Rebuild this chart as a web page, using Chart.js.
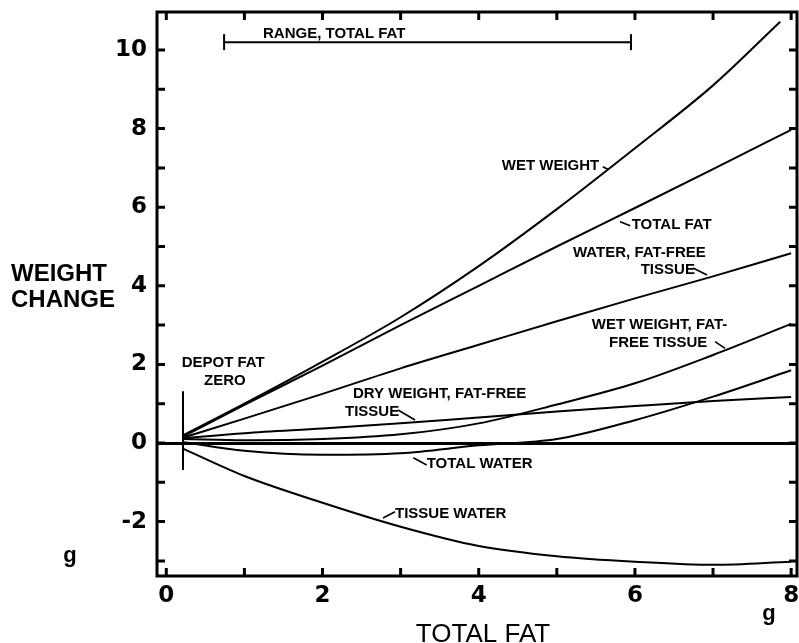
<!DOCTYPE html>
<html><head><meta charset="utf-8">
<script src="https://cdn.jsdelivr.net/npm/chart.js@4.4.1/dist/chart.umd.min.js"></script>
<style>html,body{margin:0;padding:0;background:#fff;}canvas{display:block;}</style>
</head><body>
<canvas id="c" width="799" height="643"></canvas>
<script>
// ---- data ----
const xPoints = [0.22, 1, 2, 3, 4, 5, 6, 7, 8];
const xWetPoints = [0.22, 1, 2, 3, 4, 5, 6, 7, 7.86];
const wetWeight = [0.2, 1.0, 2.07, 3.2, 4.5, 5.95, 7.5, 9.1, 10.72];
const totalFat = [0.17, 0.97, 1.97, 3.0, 4.0, 5.0, 5.98, 6.97, 7.97];
const waterFatFree = [0.14, 0.62, 1.25, 1.9, 2.5, 3.1, 3.68, 4.24, 4.83];
const wetWeightFatFree = [0.1, 0.07, 0.1, 0.22, 0.5, 0.98, 1.52, 2.24, 3.03];
const dryWeightFatFree = [0.12, 0.25, 0.37, 0.5, 0.65, 0.8, 0.94, 1.07, 1.17];
const totalWater = [0.02, -0.2, -0.3, -0.26, -0.06, 0.1, 0.58, 1.18, 1.85];
const tissueWater = [-0.15, -0.84, -1.52, -2.13, -2.62, -2.88, -3.02, -3.1, -3.02];
const rangeTotalFatX = [0.74, 5.95];
const rangeTotalFatY = [10.2, 10.2];
const depotFatZeroX = [0.214, 0.214];
const depotFatZeroY = [1.32, -0.69];
const xTickLabels = [0, 2, 4, 6, 8];
const yTickLabels = [-2, 0, 2, 4, 6, 8, 10];

const toPts = (xs, ys) => xs.map((x, i) => ({x: x, y: ys[i]}));

// annotation texts (data coordinates) and their leader strokes
const annotations = [
  {t: 'RANGE, TOTAL FAT', x: 1.238, y: 10.42},
  {t: 'WET WEIGHT', x: 4.295, y: 7.05, lead: [5.588, 7.03, 5.66, 6.96]},
  {t: 'TOTAL FAT', x: 5.959, y: 5.547, lead: [5.81, 5.63, 5.94, 5.53]},
  {t: 'WATER, FAT-FREE', x: 5.207, y: 4.847},
  {t: 'TISSUE', x: 6.074, y: 4.41, lead: [6.744, 4.453, 6.923, 4.275]},
  {t: 'WET WEIGHT, FAT-', x: 5.447, y: 3.0},
  {t: 'FREE TISSUE', x: 5.668, y: 2.55, lead: [7.026, 2.578, 7.154, 2.41]},
  {t: 'DEPOT FAT', x: 0.197, y: 2.048},
  {t: 'ZERO', x: 0.483, y: 1.583},
  {t: 'DRY WEIGHT, FAT-FREE', x: 2.39, y: 1.247},
  {t: 'TISSUE', x: 2.288, y: 0.796, lead: [2.967, 0.84, 3.185, 0.585]},
  {t: 'TOTAL WATER', x: 3.334, y: -0.534, lead: [3.163, -0.374, 3.334, -0.56]},
  {t: 'TISSUE WATER', x: 2.928, y: -1.794, lead: [2.775, -1.908, 2.928, -1.748]}
];

const lineDs = (label, xs, ys) => ({
  label: label, data: toPts(xs, ys), borderColor: '#000', borderWidth: 2,
  pointRadius: 0, fill: false, cubicInterpolationMode: 'monotone'
});

const framePlugin = {
  id: 'frame',
  afterDatasetsDraw(chart) {
    const {ctx, chartArea: a, scales: {x, y}} = chart;
    ctx.save();
    ctx.strokeStyle = '#000';
    ctx.lineWidth = 3;
    ctx.strokeRect(a.left, a.top, a.right - a.left, a.bottom - a.top);
    const L = 8;
    x.ticks.forEach(t => {
      const p = x.getPixelForValue(t.value);
      ctx.beginPath();
      ctx.moveTo(p, a.top); ctx.lineTo(p, a.top + L);
      ctx.moveTo(p, a.bottom); ctx.lineTo(p, a.bottom - L);
      ctx.stroke();
    });
    y.ticks.forEach(t => {
      const p = y.getPixelForValue(t.value);
      ctx.beginPath();
      ctx.moveTo(a.left, p); ctx.lineTo(a.left + L, p);
      ctx.moveTo(a.right, p); ctx.lineTo(a.right - L, p);
      ctx.stroke();
    });
    // annotations
    ctx.fillStyle = '#000';
    ctx.font = 'bold 15px "Liberation Sans"';
    ctx.textAlign = 'left';
    ctx.textBaseline = 'middle';
    ctx.lineWidth = 1.6;
    annotations.forEach(an => {
      ctx.fillText(an.t, x.getPixelForValue(an.x), y.getPixelForValue(an.y));
      if (an.lead) {
        ctx.beginPath();
        ctx.moveTo(x.getPixelForValue(an.lead[0]), y.getPixelForValue(an.lead[1]));
        ctx.lineTo(x.getPixelForValue(an.lead[2]), y.getPixelForValue(an.lead[3]));
        ctx.stroke();
      }
    });
    // axis titles and units
    ctx.font = 'bold 24px "Liberation Sans"';
    ctx.textBaseline = 'alphabetic';
    ctx.fillText('WEIGHT', 11, 281);
    ctx.fillText('CHANGE', 11, 307);
    ctx.font = 'bold 22px "Liberation Sans"';
    ctx.textAlign = 'center';
    ctx.fillText('g', 70, 562);
    ctx.fillText('g', 769, 620);
    ctx.font = '26px "Liberation Sans"';
    ctx.fillText('TOTAL FAT', 483, 642);
    ctx.restore();
  }
};

new Chart(document.getElementById('c'), {
  type: 'line',
  data: {
    datasets: [
      lineDs('Wet weight', xWetPoints, wetWeight),
      lineDs('Total fat', xPoints, totalFat),
      lineDs('Water, fat-free tissue', xPoints, waterFatFree),
      lineDs('Wet weight, fat-free tissue', xPoints, wetWeightFatFree),
      lineDs('Dry weight, fat-free tissue', xPoints, dryWeightFatFree),
      lineDs('Total water', xPoints, totalWater),
      lineDs('Tissue water', xPoints, tissueWater),
      {label: 'Range, total fat', data: toPts(rangeTotalFatX, rangeTotalFatY), borderColor: '#000',
       borderWidth: 2, pointStyle: 'line', rotation: 90, pointRadius: 8, pointBorderWidth: 2,
       pointBorderColor: '#000', fill: false},
      {label: 'Depot fat zero', data: toPts(depotFatZeroX, depotFatZeroY), borderColor: '#000',
       borderWidth: 2, pointRadius: 0, fill: false}
    ]
  },
  options: {
    responsive: false,
    animation: false,
    devicePixelRatio: 1,
    layout: {autoPadding: false, padding: {top: 12, right: 2, left: 0, bottom: 0}},
    plugins: {legend: {display: false}, tooltip: {enabled: false}},
    scales: {
      x: {
        type: 'linear', min: -0.119, max: 8.075,
        border: {display: false},
        grid: {display: false, drawTicks: false},
        ticks: {
          stepSize: 1, includeBounds: false, padding: 6, color: '#000', maxRotation: 0, autoSkip: false,
          font: {family: '"DejaVu Sans"', size: 23, weight: '600'},
          callback: v => xTickLabels.includes(v) ? String(v) : ''
        },
        afterFit(s) { s.height = 67; s.paddingLeft = 0; s.paddingRight = 0; }
      },
      y: {
        type: 'linear', min: -3.384, max: 10.967,
        border: {display: false},
        grid: {
          drawTicks: false,
          color: c => (c.tick && c.tick.value === 0) ? '#000' : 'rgba(0,0,0,0)',
          lineWidth: c => (c.tick && c.tick.value === 0) ? 3 : 0
        },
        ticks: {
          stepSize: 1, includeBounds: false, padding: 10, color: '#000', autoSkip: false,
          font: {family: '"DejaVu Sans"', size: 23, weight: '600'},
          callback: v => yTickLabels.includes(v) ? String(v) : ''
        },
        afterFit(s) { s.width = 157; s.paddingTop = 0; s.paddingBottom = 0; }
      }
    }
  },
  plugins: [framePlugin]
});
</script>
</body></html>
